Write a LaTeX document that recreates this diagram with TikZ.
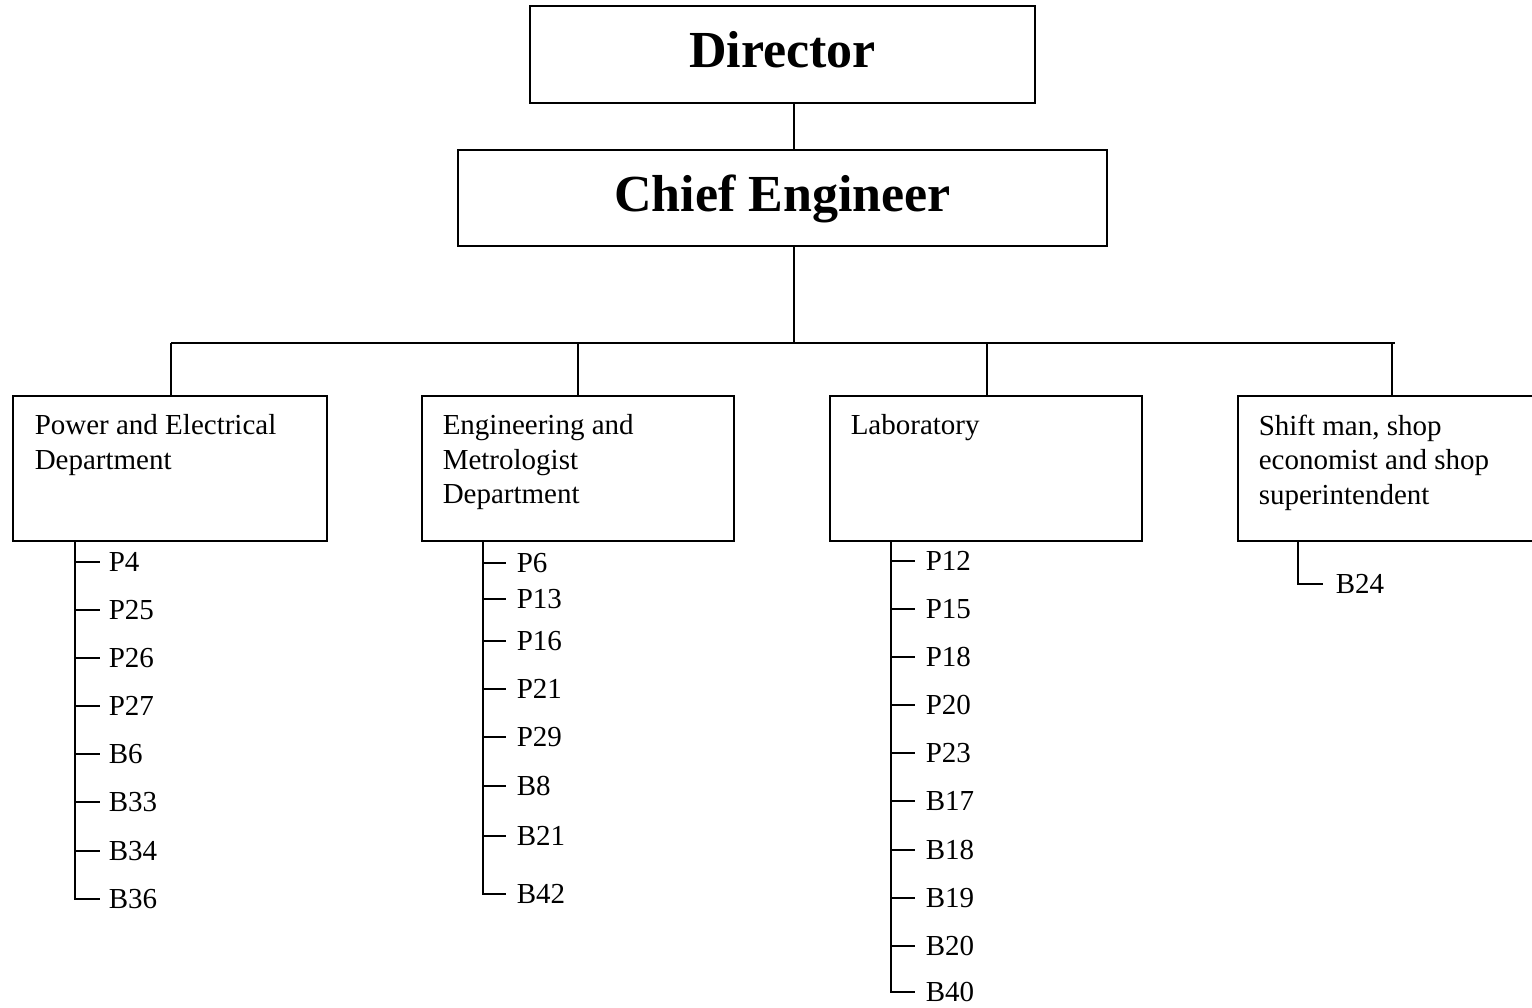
\documentclass[tikz,border=0pt]{standalone}
\usepackage{fontspec}
\setmainfont{Liberation Serif}
\begin{document}
\begin{tikzpicture}[x=1pt,y=-1pt,line width=1.5pt,
  titlebox/.style={draw,line width=1.5pt,inner sep=0pt,font=\fontsize{52}{60}\selectfont\bfseries,text height=36pt,text depth=9pt},
  deptbox/.style={draw,line width=1.5pt,anchor=north west,inner sep=0pt,minimum height=145pt},
  depttext/.style={anchor=north west,inner sep=0pt,align=left,font=\fontsize{29}{34.5}\selectfont},
  item/.style={anchor=west,inner sep=0pt,font=\fontsize{29}{34}\selectfont},
  link/.style={line width=1.5pt}]
\useasboundingbox (0,0) rectangle (1532,1008);

% top boxes
\node[titlebox,minimum width=505pt,minimum height=97pt] (dir) at (782.5,54.5) {Director};
\node[titlebox,minimum width=649pt,minimum height=96pt] (ce) at (782.5,198) {Chief Engineer};
\coordinate (cx) at (794,0);
\coordinate (bus) at (794,343);
\coordinate (b1) at (171,343);
\coordinate (b2) at (578,343);
\coordinate (b3) at (987,343);
\coordinate (b4) at (1392,343);
\coordinate (bend) at (1395,343);

% department boxes
\node[deptbox,minimum width=314pt] (d1) at (12,395) {};
\node[deptbox,minimum width=312pt] (d2) at (421,395) {};
\node[deptbox,minimum width=312pt] (d3) at (829,395) {};
\node[deptbox,minimum width=300pt] (d4) at (1237,395) {};

\node[depttext] (d1t) at (34,414) {Power and Electrical\\Department};
\node[depttext] (d2t) at (442,414) {Engineering and\\Metrologist\\Department};
\node[depttext] (d3t) at (850,414) {Laboratory};
\node[depttext] (d4t) at (1258,414) {Shift man, shop\\economist and shop\\superintendent};

% connectors
\draw[link] (dir.south -| cx) -- (ce.north -| cx);
\draw[link] (ce.south -| cx) -- (bus);
\draw[link] (b1) -- (bend);
\draw[link] (b1) -- (b1 |- d1.north);
\draw[link] (b2) -- (b2 |- d2.north);
\draw[link] (b3) -- (b3 |- d3.north);
\draw[link] (b4) -- (b4 |- d4.north);

% trunks
\coordinate (t1) at (75,540);
\coordinate (t2) at (483,540);
\coordinate (t3) at (891,540);
\coordinate (t4) at (1298,540);

% list 1
\foreach \lab/\yy [count=\i] in {P4/562,P25/610,P26/658,P27/706,B6/754,B33/802,B34/851,B36/899}{
  \node[item] (la\i) at (108,\yy) {\lab};
}
\foreach \i in {1,...,7}{\draw[link] (t1 |- la\i.west) -- ([xshift=-8pt]la\i.west);}
\draw[link] (t1) |- ([xshift=-8pt]la8.west);

% list 2
\foreach \lab/\yy [count=\i] in {P6/563,P13/599,P16/641,P21/689,P29/737,B8/786,B21/836,B42/894}{
  \node[item] (lb\i) at (516,\yy) {\lab};
}
\foreach \i in {1,...,7}{\draw[link] (t2 |- lb\i.west) -- ([xshift=-10pt]lb\i.west);}
\draw[link] (t2) |- ([xshift=-10pt]lb8.west);

% list 3
\foreach \lab/\yy [count=\i] in {P12/561,P15/609,P18/657,P20/705,P23/753,B17/801,B18/850,B19/898,B20/946,B40/992}{
  \node[item] (lc\i) at (925,\yy) {\lab};
}
\foreach \i in {1,...,9}{\draw[link] (t3 |- lc\i.west) -- ([xshift=-10pt]lc\i.west);}
\draw[link] (t3) |- ([xshift=-10pt]lc10.west);

% list 4
\node[item] (ld1) at (1335,584) {B24};
\draw[link] (t4) |- ([xshift=-12pt]ld1.west);
\end{tikzpicture}
\end{document}
